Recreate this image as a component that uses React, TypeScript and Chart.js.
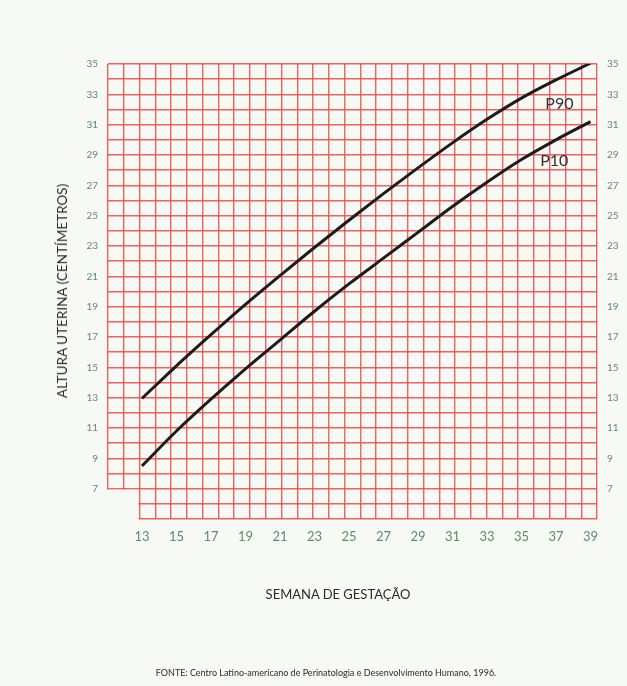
import React, { useEffect, useRef } from 'react';
import { Chart, registerables } from 'chart.js';

Chart.register(...registerables);

// Weeks of gestation (x) and uterine height in cm (y)
const weeks = [13, 15, 17, 19, 21, 23, 25, 27, 29, 31, 33, 35, 37, 39];
const p90 = [12.95, 15.1, 17.15, 19.15, 21.05, 22.9, 24.7, 26.45, 28.15, 29.8, 31.35, 32.75, 33.95, 35.05];
const p10 = [8.5, 10.8, 12.9, 14.9, 16.8, 18.7, 20.5, 22.2, 23.9, 25.6, 27.2, 28.7, 30.0, 31.2];

const weekTicks = [13, 15, 17, 19, 21, 23, 25, 27, 29, 31, 33, 35, 37, 39];
const heightTicks = [7, 9, 11, 13, 15, 17, 19, 21, 23, 25, 27, 29, 31, 33, 35];

const seriesNames = ['P90', 'P10'];
const seriesLabelWeeks = [37.2, 36.9];
const seriesLabelHeights = [32.4, 28.6];

const xTitle = 'SEMANA DE GESTAÇÃO';
const yTitle = 'ALTURA UTERINA (CENTÍMETROS)';
const sourceNote = 'FONTE: Centro Latino-americano de Perinatologia e Desenvolvimento Humano, 1996.';

const BG = '#f7f9f5';
const GRID = 'rgba(238, 72, 72, 0.85)';
const TICK = '#5e8c66';
const FONT = 'Lato, "Open Sans", sans-serif';

export default function App() {
  const ref = useRef<HTMLCanvasElement | null>(null);

  useEffect(() => {
    if (!ref.current) return;

    const notchPlugin = {
      id: 'notch',
      beforeDatasetsDraw(chart: any) {
        const { ctx, scales } = chart;
        const gx = scales.gx;
        const y = scales.y;
        const x0 = gx.getPixelForValue(0) - 3;
        const x1 = gx.getPixelForValue(2) - 1;
        const y0 = y.getPixelForValue(7) + 1;
        const y1 = y.getPixelForValue(5) + 3;
        ctx.save();
        ctx.fillStyle = BG;
        ctx.fillRect(x0, y0, x1 - x0, y1 - y0);
        ctx.restore();
      },
    };

    const labelPlugin = {
      id: 'seriesLabels',
      afterDatasetsDraw(chart: any) {
        const { ctx, scales } = chart;
        ctx.save();
        ctx.font = `16px ${FONT}`;
        ctx.fillStyle = '#333333';
        ctx.textAlign = 'center';
        ctx.textBaseline = 'middle';
        seriesNames.forEach((n, i) => {
          ctx.fillText(
            n,
            scales.x.getPixelForValue(seriesLabelWeeks[i]),
            scales.y.getPixelForValue(seriesLabelHeights[i])
          );
        });
        ctx.restore();
      },
    };

    const chart = new Chart(ref.current, {
      type: 'line',
      data: {
        datasets: [
          {
            label: seriesNames[0],
            data: weeks.map((w, i) => ({ x: w, y: p90[i] })),
            borderColor: '#1c1c1c',
            borderWidth: 3,
            pointRadius: 0,
            cubicInterpolationMode: 'monotone',
            xAxisID: 'x',
            yAxisID: 'y',
          },
          {
            label: seriesNames[1],
            data: weeks.map((w, i) => ({ x: w, y: p10[i] })),
            borderColor: '#1c1c1c',
            borderWidth: 3,
            pointRadius: 0,
            cubicInterpolationMode: 'monotone',
            xAxisID: 'x',
            yAxisID: 'y',
          },
        ],
      },
      options: {
        responsive: false,
        animation: false,
        layout: { padding: { top: 64, left: 0, right: 0, bottom: 0 } },
        plugins: { legend: { display: false }, tooltip: { enabled: false } },
        scales: {
          x: {
            type: 'linear',
            position: 'bottom',
            min: 11.03,
            max: 39.38,
            afterBuildTicks: (s: any) => {
              s.ticks = weekTicks.map((v) => ({ value: v }));
            },
            afterFit: (s: any) => {
              s.height = 167;
            },
            grid: { display: false, drawTicks: false },
            border: { display: false },
            ticks: {
              color: TICK,
              font: { family: FONT, size: 13 },
              padding: 10,
              autoSkip: false,
              maxRotation: 0,
              callback: (v: any) => String(v),
            },
          },
          gx: {
            type: 'linear',
            position: 'top',
            min: 0,
            max: 31,
            afterBuildTicks: (s: any) => {
              s.ticks = Array.from({ length: 32 }, (_, i) => ({ value: i }));
            },
            afterFit: (s: any) => {
              s.height = 0;
            },
            ticks: { display: false },
            grid: { color: GRID, lineWidth: 1.4, drawTicks: false },
            border: { display: false },
          },
          y: {
            type: 'linear',
            position: 'left',
            min: 5,
            max: 35,
            afterBuildTicks: (s: any) => {
              s.ticks = Array.from({ length: 31 }, (_, i) => ({ value: 5 + i }));
            },
            afterFit: (s: any) => {
              s.width = 108;
            },
            grid: { color: GRID, lineWidth: 1.4, drawTicks: false },
            border: { display: false },
            ticks: {
              color: TICK,
              font: { family: FONT, size: 10 },
              padding: 10,
              autoSkip: false,
              callback: (v: any) => (heightTicks.includes(v) ? String(v) : ''),
            },
          },
          y1: {
            type: 'linear',
            position: 'right',
            min: 5,
            max: 35,
            afterBuildTicks: (s: any) => {
              s.ticks = heightTicks.map((v) => ({ value: v }));
            },
            afterFit: (s: any) => {
              s.width = 30;
            },
            grid: { display: false, drawTicks: false },
            border: { display: false },
            ticks: {
              color: TICK,
              font: { family: FONT, size: 10 },
              padding: 10,
              autoSkip: false,
              callback: (v: any) => String(v),
            },
          },
        },
      },
      plugins: [notchPlugin, labelPlugin],
    } as any);

    if ((document as any).fonts && (document as any).fonts.load) {
      (document as any).fonts.load(`13px Lato`).then(() => chart.update());
    }

    return () => chart.destroy();
  }, []);

  return (
    <div
      style={{
        position: 'absolute',
        left: 0,
        top: 0,
        width: 627,
        height: 686,
        background: BG,
        overflow: 'hidden',
      }}
    >
      <canvas ref={ref} width={627} height={686} style={{ position: 'absolute', left: 0, top: 0 }} />
      <div
        style={{
          position: 'absolute',
          left: 62,
          top: 291,
          transform: 'translate(-50%, -50%) rotate(-90deg)',
          whiteSpace: 'nowrap',
          fontFamily: FONT,
          fontSize: 13.5,
          color: '#2b2b2b',
        }}
      >
        {yTitle}
      </div>
      <div
        style={{
          position: 'absolute',
          left: 338,
          top: 594,
          transform: 'translate(-50%, -50%)',
          whiteSpace: 'nowrap',
          fontFamily: FONT,
          fontSize: 13,
          color: '#2b2b2b',
        }}
      >
        {xTitle}
      </div>
      <div
        style={{
          position: 'absolute',
          left: 326,
          top: 672,
          transform: 'translate(-50%, -50%)',
          whiteSpace: 'nowrap',
          fontFamily: FONT,
          fontSize: 9,
          color: '#2b2b2b',
        }}
      >
        {sourceNote}
      </div>
    </div>
  );
}
